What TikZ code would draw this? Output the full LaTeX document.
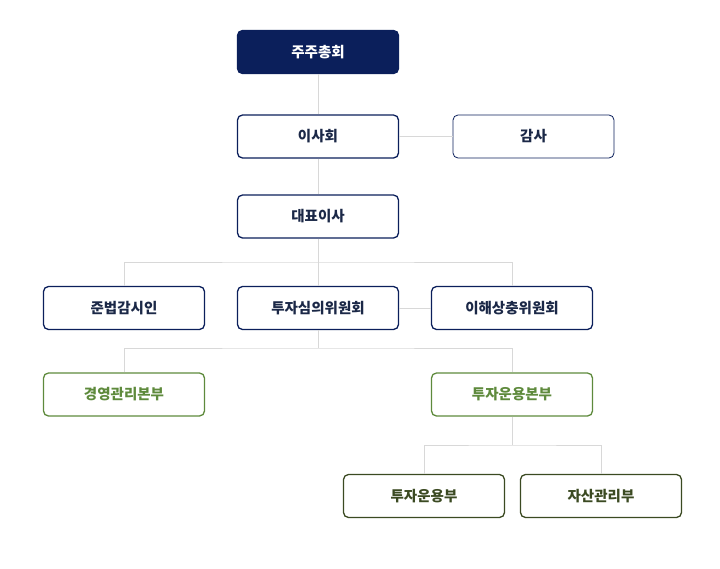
\documentclass[tikz,border=0pt]{standalone}
\usepackage{fontspec}
\newfontfamily\kr{Noto Sans CJK KR}
\definecolor{navy}{HTML}{0B1F5B}
\definecolor{navytxt}{HTML}{1B2847}
\definecolor{grn}{HTML}{5E8A3C}
\definecolor{dgrn}{HTML}{3B4A22}
\definecolor{ln}{HTML}{D8D8D8}
\begin{document}
\begin{tikzpicture}[x=1pt,y=-1pt,
 box/.style={draw=navy,line width=1.3pt,rounded corners=5pt,minimum width=161pt,minimum height=43pt,font=\kr\bfseries\fontsize{14.5}{16}\selectfont,text=navytxt,inner sep=0pt},
 top/.style={box,fill=navy,text=white},
 thin/.style={box,line width=0.8pt},
 gbox/.style={box,draw=grn,text=grn},
 dbox/.style={box,draw=dgrn,text=dgrn},
 conn/.style={draw=ln,line width=0.8pt}]
\useasboundingbox (0,0) rectangle (720,568);
\node[top] (gm) at (318,52) {주주총회};
\node[box] (bd) at (318,136.5) {이사회};
\node[thin] (au) at (533.5,136.5) {감사};
\node[box] (ceo) at (318,216.5) {대표이사};
\node[box] (cp) at (124,308) {준법감시인};
\node[box] (ic) at (318,308) {투자심의위원회};
\node[box] (cc) at (512,308) {이해상충위원회};
\node[gbox] (mg) at (124,394.5) {경영관리본부};
\node[gbox] (ih) at (512,394.5) {투자운용본부};
\node[dbox] (id) at (424,496) {투자운용부};
\node[dbox] (am) at (601,496) {자산관리부};
\coordinate (j1) at (318,262);
\coordinate (j2) at (318,348);
\coordinate (j3) at (512,445);
\draw[conn] (gm) -- (bd);
\draw[conn] (bd) -- (au);
\draw[conn] (bd) -- (ceo);
\draw[conn] (ceo) -- (j1);
\draw[conn] (cp.north) |- (j1) -| (cc.north);
\draw[conn] (j1) -- (ic);
\draw[conn] (ic) -- (cc);
\draw[conn] (ic) -- (j2);
\draw[conn] (mg.north) |- (j2) -| (ih.north);
\draw[conn] (ih) -- (j3);
\draw[conn] (id.north) |- (j3) -| (am.north);
\end{tikzpicture}
\end{document}
